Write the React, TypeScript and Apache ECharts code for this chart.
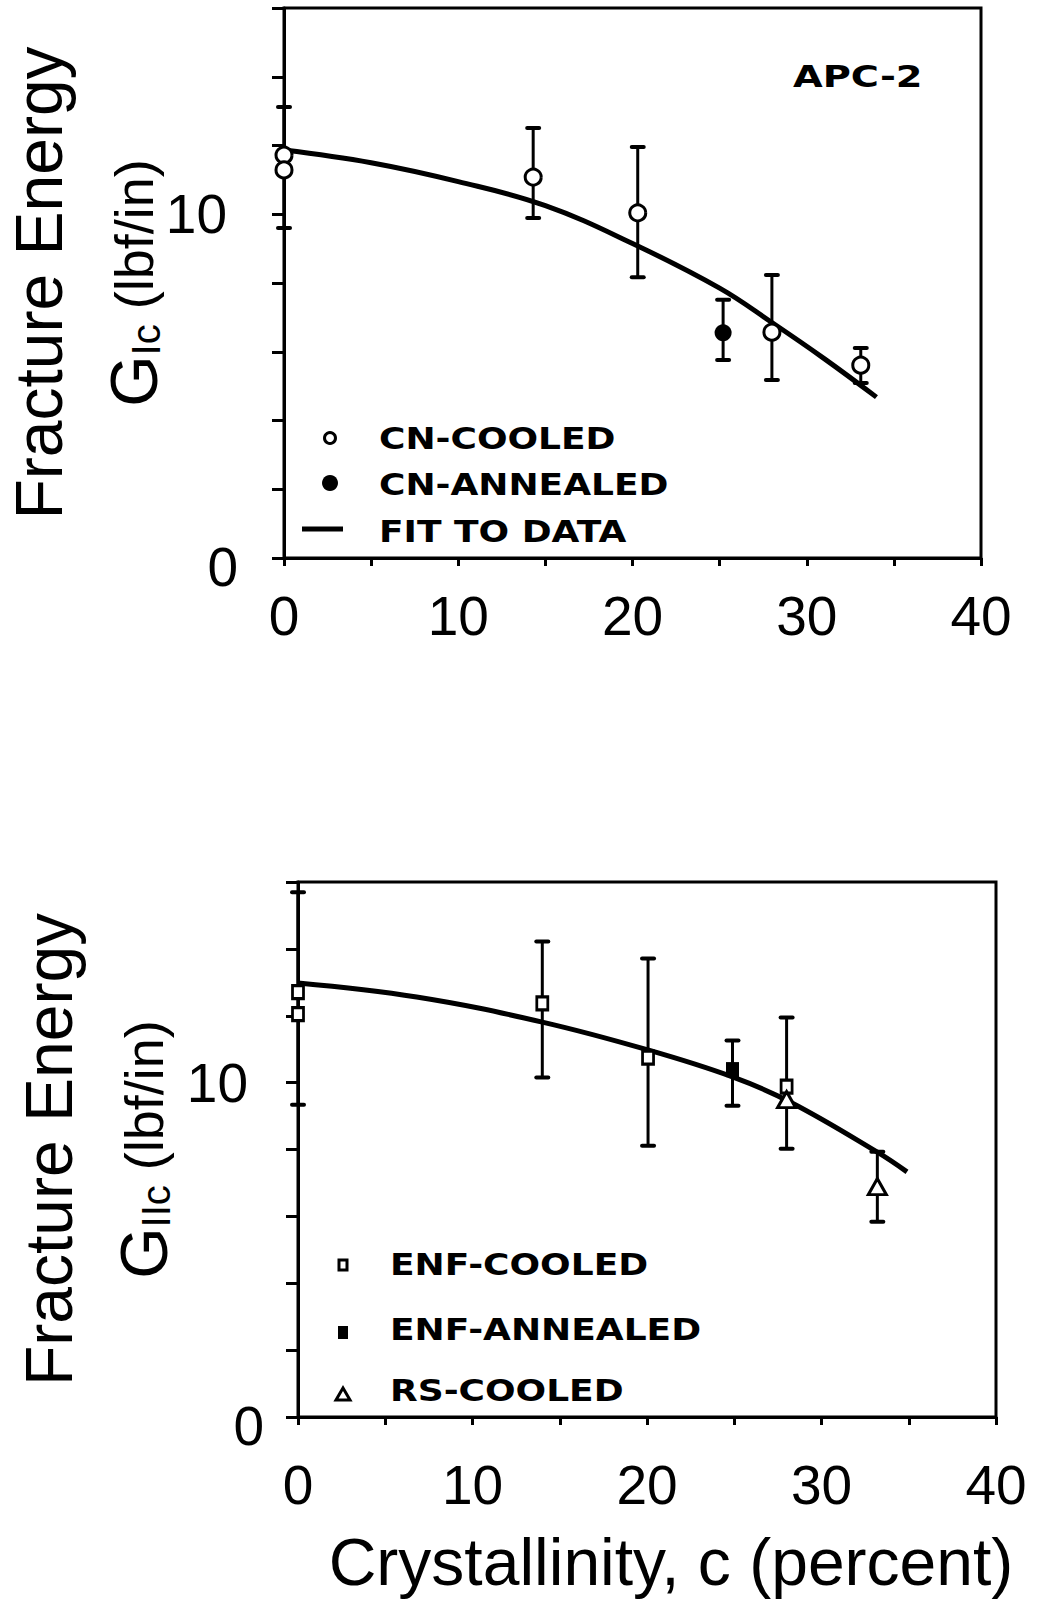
import React, { useEffect, useRef } from "react";
import * as echarts from "echarts";

const FONT = '"Liberation Sans", Arial, Helvetica, sans-serif';
const BOLD_FONT = '"DejaVu Sans", "Liberation Sans", Arial, sans-serif';

// ---------- Top panel (G_Ic) ----------
const topCooledX = [0, 0, 14.3, 20.3, 28.0, 33.1];
const topCooledY = [11.72, 11.29, 11.08, 10.04, 6.57, 5.61];
const topAnnealedX = [25.2];
const topAnnealedY = [6.55];
const topErrX = [0, 14.3, 20.3, 25.2, 28.0, 33.1];
const topErrLow = [9.6, 9.89, 8.17, 5.76, 5.18, 5.09];
const topErrHigh = [13.12, 12.51, 11.96, 7.51, 8.23, 6.11];
const topFitX = [0, 5, 10, 15, 20, 25, 28, 31, 34];
const topFitY = [11.87, 11.5, 10.95, 10.25, 9.15, 7.85, 6.85, 5.8, 4.68];

// ---------- Bottom panel (G_IIc) ----------
const botCooledX = [0, 0, 14.0, 20.06, 28.0];
const botCooledY = [12.71, 12.05, 12.37, 10.75, 9.88];
const botAnnealedX = [24.9];
const botAnnealedY = [10.39];
const botRsX = [28.0, 33.2];
const botRsY = [9.49, 6.89];
const botErrX = [0, 14.0, 20.06, 24.9, 28.0, 33.2];
const botErrLow = [9.34, 10.15, 8.11, 9.31, 8.02, 5.84];
const botErrHigh = [15.69, 14.22, 13.71, 11.26, 11.95, 7.93];
const botFitX = [0, 6.8, 14.0, 20.1, 24.9, 28.2, 33.2, 34.9];
const botFitY = [12.98, 12.56, 11.81, 10.97, 10.17, 9.42, 7.92, 7.33];

// ---------- Axis settings ----------
const xMin = 0;
const xMax = 40;
const xStep = 5;
const yMin = 0;
const yMax = 16;
const yStep = 2;
const yLabelValues = [0, 10];
const xLabelStep = 10;

const topLegend = ["CN-COOLED", "CN-ANNEALED", "FIT TO DATA"];
const botLegend = ["ENF-COOLED", "ENF-ANNEALED", "RS-COOLED"];
const panelTag = "APC-2";
const xTitle = "Crystallinity, c (percent)";

const zip = (xs: number[], ys: number[]) => xs.map((x, i) => [x, ys[i]]);
const zip3 = (xs: number[], a: number[], b: number[]) => xs.map((x, i) => [x, a[i], b[i]]);

const errRender = (params: any, api: any) => {
  const x = api.value(0);
  const lo = api.value(1);
  const hi = api.value(2);
  const p1 = api.coord([x, hi]);
  const p2 = api.coord([x, lo]);
  const cap = 6;
  const st = { stroke: "#000", lineWidth: 3 };
  const cs = { stroke: "#000", lineWidth: 4, lineCap: "round" };
  return {
    type: "group",
    children: [
      { type: "line", shape: { x1: p1[0], y1: p1[1], x2: p2[0], y2: p2[1] }, style: st },
      { type: "line", shape: { x1: p1[0] - cap, y1: p1[1], x2: p1[0] + cap, y2: p1[1] }, style: cs },
      { type: "line", shape: { x1: p2[0] - cap, y1: p2[1], x2: p2[0] + cap, y2: p2[1] }, style: cs },
    ],
  };
};

const xAxisCfg = (idx: number, margin: number, withName: boolean) => ({
  type: "value",
  gridIndex: idx,
  min: xMin,
  max: xMax,
  interval: xStep,
  splitLine: { show: false },
  axisLine: { lineStyle: { color: "#000", width: 3 } },
  axisTick: { length: 8, lineStyle: { color: "#000", width: 3 } },
  axisLabel: {
    margin,
    fontFamily: FONT,
    fontSize: 55,
    color: "#000",
    formatter: (v: number) => (v % xLabelStep === 0 ? String(v) : ""),
  },
  ...(withName
    ? {
        name: xTitle,
        nameLocation: "middle",
        nameGap: 112,
        nameMoveOverlap: false,
        nameTextStyle: {
          fontFamily: FONT,
          fontSize: 66,
          color: "#000",
          padding: [0, 0, 0, 48],
        },
      }
    : {}),
});

const yAxisCfg = (idx: number, margin: number, tenPad: number, sub: string, nameGap: number) => ({
  type: "value",
  gridIndex: idx,
  min: yMin,
  max: yMax,
  interval: yStep,
  splitLine: { show: false },
  axisLine: { lineStyle: { color: "#000", width: 3 } },
  axisTick: { length: 12, lineStyle: { color: "#000", width: 3 } },
  axisLabel: {
    margin,
    fontFamily: FONT,
    fontSize: 55,
    color: "#000",
    formatter: (v: number) =>
      yLabelValues.indexOf(v) < 0 ? "" : v === 0 ? "{z|" + v + "}" : "{t|" + v + "}",
    rich: {
      z: { fontFamily: FONT, fontSize: 55, color: "#000", padding: [18, 0, 0, 0] },
      t: { fontFamily: FONT, fontSize: 55, color: "#000", padding: [0, tenPad, 0, 0] },
    },
  },
  name: "Fracture Energy\n{g|G}{s|" + sub + "}{u| (lbf/in)}",
  nameLocation: "middle",
  nameRotate: 90,
  nameGap,
  nameMoveOverlap: false,
  nameTextStyle: {
    fontFamily: FONT,
    fontSize: 66,
    color: "#000",
    lineHeight: 95,
    rich: {
      g: { fontFamily: FONT, fontSize: 66, color: "#000", lineHeight: 95 },
      s: { fontFamily: FONT, fontSize: 40, color: "#000", padding: [24, 0, 0, 0] },
      u: { fontFamily: FONT, fontSize: 54, color: "#000", lineHeight: 95 },
    },
  },
});

const legendText = (text: string, x: number, y: number, size = 30, sx = 1.2) => ({
  type: "text",
  x,
  y,
  scaleX: sx,
  style: {
    text,
    fontFamily: BOLD_FONT,
    fontSize: size,
    fontWeight: "bold",
    fill: "#000",
    align: "left",
    verticalAlign: "middle",
  },
});

export default function App() {
  const ref = useRef<HTMLDivElement>(null);

  useEffect(() => {
    if (!ref.current) return;
    const chart = echarts.init(ref.current, undefined, { renderer: "svg" });

    const openMark = { color: "#fff", borderColor: "#000", borderWidth: 3, opacity: 1 };
    const option: any = {
      animation: false,
      backgroundColor: "#fff",
      grid: [
        {
          left: 284, top: 8, width: 697, height: 550,
          show: true, borderColor: "#000", borderWidth: 3,
          containLabel: false, outerBoundsMode: "none",
        },
        {
          left: 298, top: 882, width: 698, height: 535,
          show: true, borderColor: "#000", borderWidth: 3,
          containLabel: false, outerBoundsMode: "none",
        },
      ],
      xAxis: [xAxisCfg(0, 30, false), xAxisCfg(1, 40, true)],
      yAxis: [yAxisCfg(0, 46, 11, "Ic", 103), yAxisCfg(1, 34, 16, "IIc", 107)],
      series: [
        // top panel
        {
          type: "custom",
          xAxisIndex: 0,
          yAxisIndex: 0,
          renderItem: errRender,
          encode: { x: 0, y: [1, 2] },
          data: zip3(topErrX, topErrLow, topErrHigh),
          clip: false,
          z: 2,
        },
        {
          type: "line",
          name: topLegend[2],
          xAxisIndex: 0,
          yAxisIndex: 0,
          data: zip(topFitX, topFitY),
          smooth: 0.4,
          showSymbol: false,
          lineStyle: { color: "#000", width: 5 },
          z: 3,
        },
        {
          type: "scatter",
          name: topLegend[0],
          xAxisIndex: 0,
          yAxisIndex: 0,
          data: zip(topCooledX, topCooledY),
          symbol: "circle",
          symbolSize: 16,
          itemStyle: openMark,
          z: 4,
        },
        {
          type: "scatter",
          name: topLegend[1],
          xAxisIndex: 0,
          yAxisIndex: 0,
          data: zip(topAnnealedX, topAnnealedY),
          symbol: "circle",
          symbolSize: 17,
          itemStyle: { color: "#000", opacity: 1 },
          z: 4,
        },
        // bottom panel
        {
          type: "custom",
          xAxisIndex: 1,
          yAxisIndex: 1,
          renderItem: errRender,
          encode: { x: 0, y: [1, 2] },
          data: zip3(botErrX, botErrLow, botErrHigh),
          clip: false,
          z: 2,
        },
        {
          type: "line",
          name: "fit",
          xAxisIndex: 1,
          yAxisIndex: 1,
          data: zip(botFitX, botFitY),
          smooth: 0.4,
          showSymbol: false,
          lineStyle: { color: "#000", width: 5 },
          z: 3,
        },
        {
          type: "scatter",
          name: botLegend[0],
          xAxisIndex: 1,
          yAxisIndex: 1,
          data: zip(botCooledX, botCooledY),
          symbol: "rect",
          symbolSize: [11, 13],
          itemStyle: openMark,
          z: 4,
        },
        {
          type: "scatter",
          name: botLegend[1],
          xAxisIndex: 1,
          yAxisIndex: 1,
          data: zip(botAnnealedX, botAnnealedY),
          symbol: "rect",
          symbolSize: [13, 15],
          itemStyle: { color: "#000", opacity: 1 },
          z: 4,
        },
        {
          type: "scatter",
          name: botLegend[2],
          xAxisIndex: 1,
          yAxisIndex: 1,
          data: zip(botRsX, botRsY),
          symbol: "triangle",
          symbolSize: [18, 16],
          itemStyle: openMark,
          z: 4,
        },
      ],
      graphic: [
        legendText(panelTag, 793, 77, 30, 1.28),
        // top legend
        { type: "circle", shape: { cx: 330, cy: 438, r: 5.5 }, style: { fill: "#fff", stroke: "#000", lineWidth: 3 } },
        { type: "circle", shape: { cx: 330, cy: 483, r: 8 }, style: { fill: "#000" } },
        { type: "line", shape: { x1: 302, y1: 529, x2: 343, y2: 529 }, style: { stroke: "#000", lineWidth: 5 } },
        legendText(topLegend[0], 379, 439),
        legendText(topLegend[1], 379, 485),
        legendText(topLegend[2], 379, 532),
        // bottom legend
        { type: "rect", shape: { x: 339, y: 1260, width: 8, height: 10 }, style: { fill: "#fff", stroke: "#000", lineWidth: 3 } },
        { type: "rect", shape: { x: 338, y: 1326, width: 10, height: 13 }, style: { fill: "#000" } },
        {
          type: "polygon",
          shape: { points: [[343, 1388], [336, 1400], [350, 1400]] },
          style: { fill: "#fff", stroke: "#000", lineWidth: 3 },
        },
        legendText(botLegend[0], 390, 1265),
        legendText(botLegend[1], 390, 1330),
        legendText(botLegend[2], 390, 1391),
      ],
    };

    chart.setOption(option);
    return () => chart.dispose();
  }, []);

  return (
    <div
      ref={ref}
      style={{ position: "absolute", left: 0, top: 0, width: 1037, height: 1606, background: "#fff" }}
    />
  );
}
